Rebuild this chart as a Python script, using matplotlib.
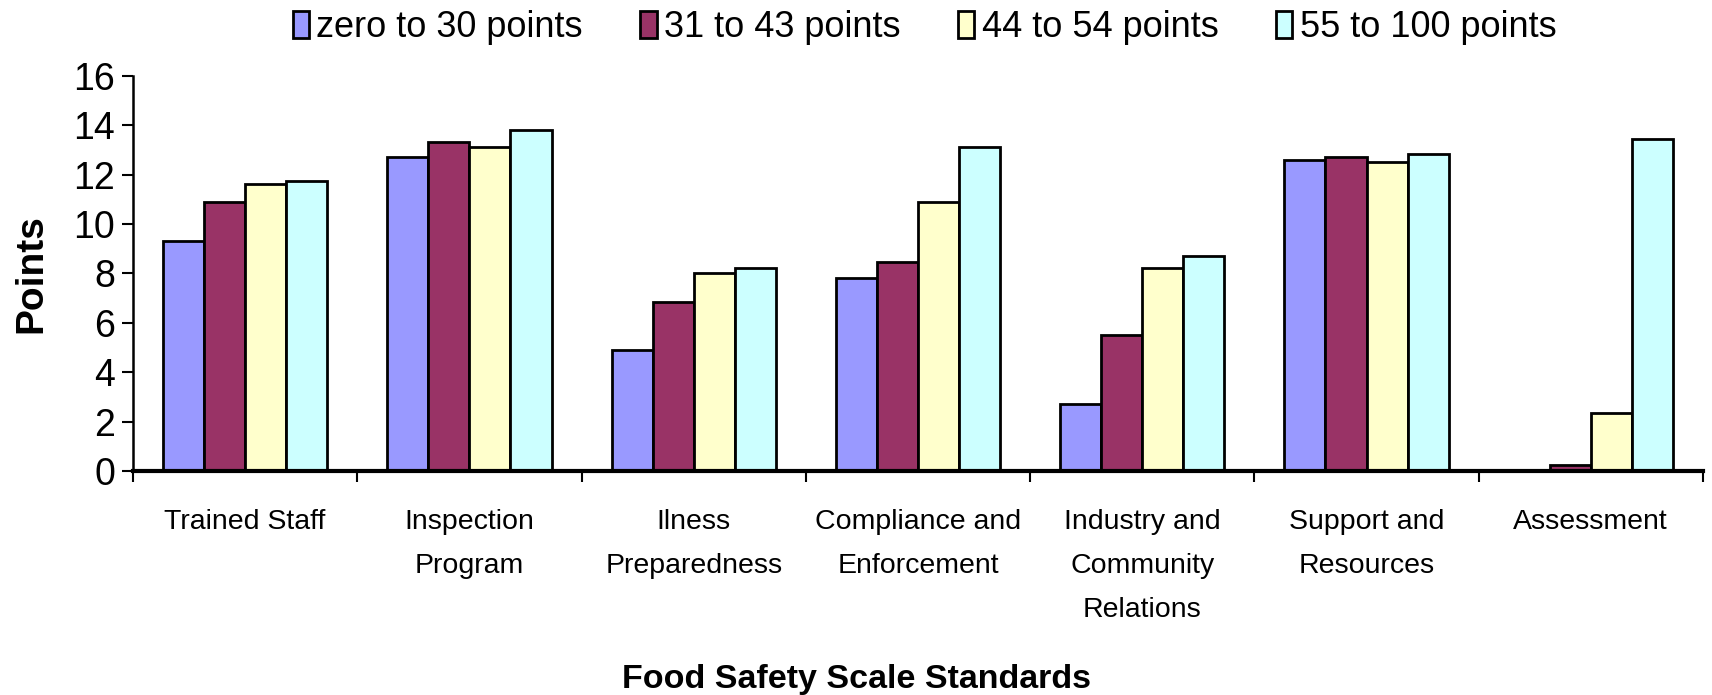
import numpy as np
import matplotlib.pyplot as plt

plt.rcParams['font.family'] = ['Liberation Sans', 'DejaVu Sans']

# categories and series values
categories = ['Trained Staff', 'Inspection\nProgram', 'Ilness\nPreparedness',
              'Compliance and\nEnforcement', 'Industry and\nCommunity\nRelations',
              'Support and\nResources', 'Assessment']
series_names = ['zero to 30 points', '31 to 43 points', '44 to 54 points', '55 to 100 points']
zero_30 = [9.3, 12.7, 4.9, 7.8, 2.7, 12.6, 0.0]
p31_43 = [10.9, 13.3, 6.85, 8.45, 5.5, 12.7, 0.25]
p44_54 = [11.6, 13.1, 8.0, 10.9, 8.2, 12.5, 2.35]
p55_100 = [11.75, 13.8, 8.2, 13.1, 8.7, 12.85, 13.45]
colors = ['#9999FF', '#993366', '#FFFFCC', '#CCFFFF']

fig = plt.figure(figsize=(17.12, 6.95), dpi=100)
ax = fig.add_axes([0.0777, 0.3223, 0.9170, 0.5687])

x = np.arange(len(categories))
w = 0.183
for i, (vals, name) in enumerate(zip([zero_30, p31_43, p44_54, p55_100], series_names)):
    ax.bar(x + (i - 1.5) * w, vals, w, color=colors[i], edgecolor='black',
           linewidth=2, label=name, zorder=2)

ax.set_xlim(-0.5, len(categories) - 0.5)
ax.set_ylim(0, 16)
ax.set_yticks(np.arange(0, 17, 2))
ax.tick_params(axis='y', labelsize=27, length=8, width=1.5, direction='out', pad=5)

# ticks between categories, labels at the centres
ax.set_xticks(np.arange(-0.5, len(categories), 1.0))
ax.set_xticklabels([])
ax.set_xticks(x, minor=True)
ax.set_xticklabels(categories, minor=True, fontsize=20.5, linespacing=1.9, va='top')
ax.tick_params(axis='x', which='major', length=8, width=1.5, direction='out')
ax.tick_params(axis='x', which='minor', length=0, pad=27)

for s in ['top', 'right']:
    ax.spines[s].set_visible(False)
ax.spines['left'].set_linewidth(1.8)
ax.spines['bottom'].set_linewidth(3)

ax.set_ylabel('Points', fontsize=28, fontweight='bold', labelpad=17)
fig.text(0.5, 0.022, 'Food Safety Scale Standards', fontsize=24.5, fontweight='bold',
         ha='center', va='center')

fig.legend(loc='upper center', bbox_to_anchor=(0.54, 1.032), ncol=4, frameon=False,
           fontsize=26, handlelength=0.45, handleheight=0.75, handletextpad=0.2,
           columnspacing=1.6)

fig.savefig('out.png', dpi=100)
